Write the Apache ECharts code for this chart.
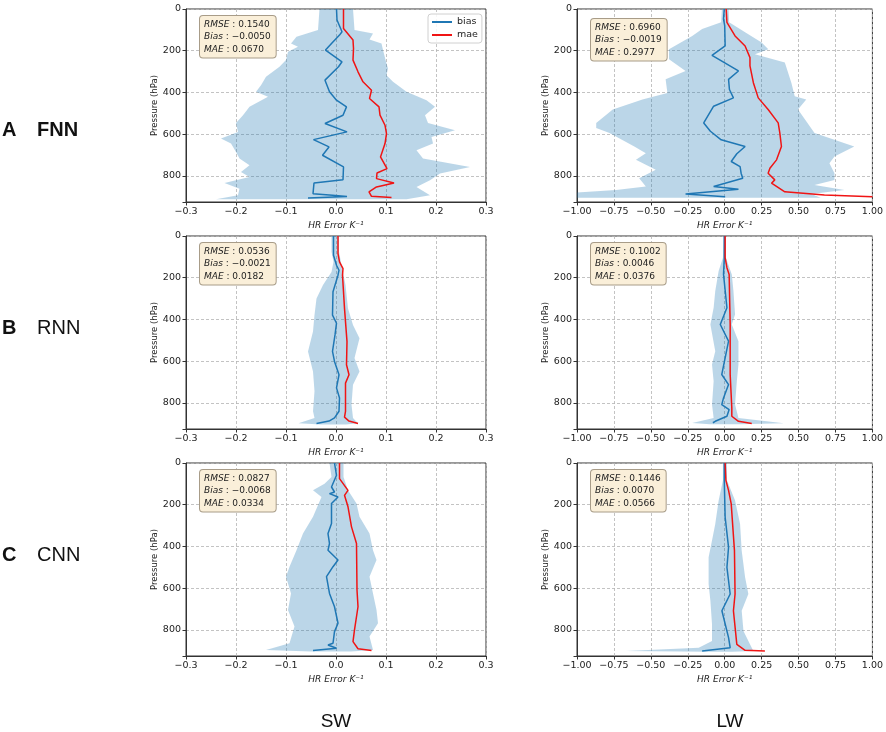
<!DOCTYPE html>
<html>
<head>
<meta charset="utf-8">
<title>HR error profiles</title>
<script src="https://cdn.jsdelivr.net/npm/echarts@6/dist/echarts.min.js"></script>
<style>
  html, body { margin: 0; padding: 0; background: #fff; }
  #chart { width: 886px; height: 732px; }
</style>
</head>
<body>
<div id="chart"></div>
<script>
(() => {
  'use strict';

  // -------- data --------
  const rowLetters = ['A', 'B', 'C'];
  const modelNames = ['FNN', 'RNN', 'CNN'];
  const bandNames = ['SW', 'LW'];
  const pressureTicks = [0, 200, 400, 600, 800];
  const pressureMax = 925;
  const swTicks = [-0.3, -0.2, -0.1, 0, 0.1, 0.2, 0.3];
  const lwTicks = [-1, -0.75, -0.5, -0.25, 0, 0.25, 0.5, 0.75, 1];

  // [RMSE, Bias, MAE]
  const fnnSwStats = ['0.1540', '−0.0050', '0.0670'];
  const fnnLwStats = ['0.6960', '−0.0019', '0.2977'];
  const rnnSwStats = ['0.0536', '−0.0021', '0.0182'];
  const rnnLwStats = ['0.1002', '0.0046', '0.0376'];
  const cnnSwStats = ['0.0827', '−0.0068', '0.0334'];
  const cnnLwStats = ['0.1446', '0.0070', '0.0566'];

  // profiles: [error K^-1, pressure hPa]
  const fnnSwBias = [[0.001,0],[0.002,53],[0.012,109],[0.007,125],[-0.009,165],[-0.021,197],[0.012,253],[0.005,277],[-0.022,341],[-0.013,397],[0.001,437],[0.021,469],[0.014,509],[-0.022,549],[0.022,589],[-0.045,626],[-0.014,661],[-0.027,701],[0.015,757],[0.014,818],[-0.044,834],[-0.046,885],[-0.007,893],[0.022,899],[-0.056,906]];
  const fnnSwMae = [[0.015,0],[0.015,93],[0.034,149],[0.035,189],[0.034,245],[0.044,301],[0.054,349],[0.071,389],[0.067,429],[0.086,469],[0.088,509],[0.098,557],[0.101,597],[0.098,645],[0.089,709],[0.102,765],[0.082,786],[0.081,813],[0.116,834],[0.081,853],[0.066,877],[0.071,898],[0.111,904]];
  const fnnSwLo = [[-0.033,0],[-0.036,101],[-0.079,133],[-0.09,165],[-0.076,181],[-0.096,205],[-0.1,245],[-0.113,277],[-0.14,325],[-0.15,365],[-0.16,397],[-0.136,421],[-0.173,469],[-0.186,509],[-0.2,546],[-0.196,589],[-0.23,621],[-0.21,645],[-0.2,685],[-0.193,717],[-0.173,749],[-0.19,781],[-0.173,805],[-0.223,834],[-0.193,861],[-0.196,893],[-0.24,912]];
  const fnnSwHi = [[0.034,0],[0.037,101],[0.074,117],[0.067,146],[0.091,165],[0.094,197],[0.1,253],[0.104,285],[0.101,317],[0.114,349],[0.141,397],[0.181,437],[0.198,469],[0.178,509],[0.184,546],[0.238,581],[0.191,613],[0.194,645],[0.161,677],[0.174,717],[0.268,757],[0.208,789],[0.188,821],[0.161,853],[0.188,893],[0.141,912]];

  const fnnLwBias = [[-0.003,0],[-0.008,48],[0,80],[0.003,177],[-0.086,222],[0.093,297],[0.026,337],[0.032,386],[0.059,426],[-0.075,466],[-0.142,546],[-0.097,586],[-0.024,627],[0.138,659],[0.082,694],[0.044,731],[0.104,755],[0.111,787],[0.122,811],[-0.075,851],[0.093,864],[-0.265,887],[0.003,900]];
  const fnnLwMae = [[0.01,0],[0.015,64],[0.07,129],[0.138,177],[0.171,233],[0.171,273],[0.194,353],[0.227,426],[0.294,482],[0.362,546],[0.373,594],[0.384,659],[0.351,723],[0.306,763],[0.294,787],[0.339,819],[0.317,835],[0.407,876],[0.675,892],[1.0,900]];
  const fnnLwLo = [[-0.019,0],[-0.024,64],[-0.153,96],[-0.22,129],[-0.377,193],[-0.377,241],[-0.265,297],[-0.4,337],[-0.388,402],[-0.557,434],[-0.758,482],[-0.87,546],[-0.87,570],[-0.78,594],[-0.612,659],[-0.534,691],[-0.601,723],[-0.467,771],[-0.579,811],[-0.534,851],[-0.736,867],[-1.0,880],[-1.0,905]];
  const fnnLwHi = [[0.026,0],[0.03,64],[0.138,112],[0.25,161],[0.295,193],[0.205,217],[0.407,257],[0.451,353],[0.474,418],[0.552,434],[0.496,482],[0.608,594],[0.877,659],[0.743,707],[0.709,739],[0.743,787],[0.743,819],[0.608,843],[0.81,867],[0.586,887],[0.65,905]];

  const rnnSwBias = [[-0.005,0],[-0.005,92],[0.001,140],[0.006,164],[0.004,188],[-0.006,267],[-0.007,379],[0.001,418],[-0.002,474],[-0.007,553],[-0.003,601],[0.006,665],[0.001,728],[0.007,776],[0.006,840],[-0.003,872],[-0.014,887],[-0.039,899]];
  const rnnSwMae = [[0.004,0],[0.004,84],[0.007,124],[0.014,156],[0.013,188],[0.017,347],[0.022,506],[0.021,617],[0.026,665],[0.019,705],[0.019,840],[0.017,868],[0.026,887],[0.044,899]];
  const rnnSwLo = [[-0.009,0],[-0.009,76],[-0.005,124],[-0.009,172],[-0.026,235],[-0.039,299],[-0.043,379],[-0.046,458],[-0.056,553],[-0.046,649],[-0.043,744],[-0.046,840],[-0.043,872],[-0.075,898],[-0.03,903]];
  const rnnSwHi = [[0.006,0],[0.006,76],[0.011,140],[0.019,235],[0.024,347],[0.034,426],[0.047,490],[0.037,585],[0.047,649],[0.034,713],[0.031,808],[0.034,872],[0.044,898],[0.02,903]];

  const rnnLwBias = [[-0.003,0],[-0.003,104],[-0.008,184],[0.015,344],[-0.03,424],[0.026,504],[0.003,584],[-0.02,664],[0.026,712],[-0.008,776],[-0.02,808],[0.03,832],[0.015,864],[-0.064,888],[-0.08,895]];
  const rnnLwMae = [[0.003,0],[0.003,104],[0.015,152],[0.03,184],[0.037,424],[0.037,664],[0.048,824],[0.048,864],[0.093,888],[0.183,899]];
  const rnnLwLo = [[-0.008,0],[-0.012,104],[-0.041,168],[-0.064,264],[-0.075,344],[-0.097,424],[-0.064,552],[-0.086,616],[-0.075,696],[-0.086,808],[-0.075,872],[-0.22,896],[-0.1,902]];
  const rnnLwHi = [[0.008,0],[0.008,104],[0.048,184],[0.059,264],[0.07,376],[0.048,424],[0.093,504],[0.093,616],[0.082,696],[0.07,808],[0.093,872],[0.4,898],[0.1,902]];

  const cnnSwBias = [[-0.003,0],[0.001,59],[-0.009,115],[-0.003,139],[-0.013,147],[0.004,163],[-0.009,194],[-0.009,290],[-0.016,338],[-0.013,386],[-0.016,418],[0.004,465],[-0.006,497],[-0.019,545],[-0.013,625],[-0.003,689],[0.004,768],[-0.003,808],[-0.006,864],[-0.016,872],[0.001,888],[-0.046,899]];
  const cnnSwMae = [[0.007,0],[0.007,75],[0.024,131],[0.017,155],[0.024,210],[0.031,306],[0.041,386],[0.042,609],[0.044,689],[0.037,800],[0.034,856],[0.044,890],[0.071,899]];
  const cnnSwLo = [[-0.013,0],[-0.009,67],[-0.023,99],[-0.046,131],[-0.029,163],[-0.046,258],[-0.066,338],[-0.079,418],[-0.093,497],[-0.1,545],[-0.09,625],[-0.096,705],[-0.083,784],[-0.093,864],[-0.14,896],[-0.05,903]];
  const cnnSwHi = [[0.015,0],[0.015,67],[0.024,131],[0.041,194],[0.047,258],[0.067,338],[0.074,418],[0.081,465],[0.067,545],[0.074,625],[0.081,705],[0.084,768],[0.067,832],[0.074,896],[0.03,903]];

  const cnnLwBias = [[-0.003,0],[-0.003,83],[0.003,260],[0.026,404],[0.015,500],[0.037,628],[-0.019,708],[0.026,837],[0.037,885],[-0.153,901]];
  const cnnLwMae = [[0.003,0],[0.008,83],[0.026,131],[0.044,196],[0.066,420],[0.07,628],[0.059,708],[0.082,869],[0.138,898],[0.272,901]];
  const cnnLwLo = [[-0.012,0],[-0.012,83],[-0.041,180],[-0.064,292],[-0.086,372],[-0.109,452],[-0.109,580],[-0.097,660],[-0.086,773],[-0.086,853],[-0.176,885],[-0.669,901],[-0.1,905]];
  const cnnLwHi = [[0.015,0],[0.015,83],[0.07,180],[0.104,292],[0.115,420],[0.138,548],[0.16,628],[0.115,708],[0.127,805],[0.171,869],[0.194,901],[0.05,905]];

  // row-major: FNN SW, FNN LW, RNN SW, ...
  const panels = [
    { bias: fnnSwBias, mae: fnnSwMae, lo: fnnSwLo, hi: fnnSwHi, stats: fnnSwStats },
    { bias: fnnLwBias, mae: fnnLwMae, lo: fnnLwLo, hi: fnnLwHi, stats: fnnLwStats },
    { bias: rnnSwBias, mae: rnnSwMae, lo: rnnSwLo, hi: rnnSwHi, stats: rnnSwStats },
    { bias: rnnLwBias, mae: rnnLwMae, lo: rnnLwLo, hi: rnnLwHi, stats: rnnLwStats },
    { bias: cnnSwBias, mae: cnnSwMae, lo: cnnSwLo, hi: cnnSwHi, stats: cnnSwStats },
    { bias: cnnLwBias, mae: cnnLwMae, lo: cnnLwLo, hi: cnnLwHi, stats: cnnLwStats },
  ];

  // -------- layout / style --------
  const FONT = "'DejaVu Sans', sans-serif";
  const LABEL_FONT = "'Liberation Sans', Arial, sans-serif";
  const COL_LEFT = [186, 577];
  const COL_WIDTH = [300, 298];
  const ROW_TOP = [9, 236, 463];
  const ROW_HEIGHT = 193;
  const ROW_LABEL_Y = [130, 328, 555];
  const COL_LABEL_X = [336, 730];
  const BIAS_COLOR = '#1f77b4';
  const MAE_COLOR = '#f01414';
  const BAND_COLOR = 'rgba(31,119,180,0.3)';
  const FRAME = '#333';
  const GRIDLINE = '#b4b4b4';

  const fmtTick = (v, digits) => {
    if (Math.abs(v) < 1e-9) return (0).toFixed(digits);
    return (v < 0 ? '−' : '') + Math.abs(v).toFixed(digits);
  };

  const grids = [], xAxes = [], yAxes = [], series = [], graphics = [];

  panels.forEach((p, i) => {
    const row = Math.floor(i / 2);
    const col = i % 2;
    const ticks = col === 0 ? swTicks : lwTicks;
    const digits = col === 0 ? 1 : 2;
    const xmin = ticks[0], xmax = ticks[ticks.length - 1];

    grids.push({
      left: COL_LEFT[col], top: ROW_TOP[row], width: COL_WIDTH[col], height: ROW_HEIGHT,
      show: true, borderColor: FRAME, borderWidth: 1, backgroundColor: 'rgba(0,0,0,0)',
    });

    xAxes.push({
      type: 'value', gridIndex: i,
      min: xmin, max: xmax, interval: ticks[1] - ticks[0],
      name: 'HR Error K⁻¹', nameLocation: 'middle', nameGap: 19,
      nameTextStyle: { fontFamily: FONT, fontSize: 9, fontStyle: 'italic', color: '#222' },
      axisLine: { show: true, onZero: false, lineStyle: { color: FRAME, width: 1 } },
      axisTick: { show: true, length: 3.5, lineStyle: { color: FRAME } },
      axisLabel: {
        margin: 5, fontFamily: FONT, fontSize: 9.5, color: '#222',
        formatter: (v) => fmtTick(v, digits),
      },
      splitLine: { show: true, lineStyle: { color: GRIDLINE, type: [3, 2], width: 0.8 } },
    });

    yAxes.push({
      type: 'value', gridIndex: i, inverse: true,
      min: pressureTicks[0], max: pressureMax, interval: pressureTicks[1] - pressureTicks[0],
      name: 'Pressure (hPa)', nameLocation: 'middle', nameGap: 24,
      nameTextStyle: { fontFamily: FONT, fontSize: 8.5, color: '#222' },
      axisLine: { show: true, onZero: false, lineStyle: { color: FRAME, width: 1 } },
      axisTick: { show: true, length: 3.5, lineStyle: { color: FRAME } },
      axisLabel: {
        margin: 5, fontFamily: FONT, fontSize: 9.5, color: '#222',
        formatter: (v) => (pressureTicks.includes(v) ? String(v) : ''),
      },
      splitLine: { show: true, lineStyle: { color: GRIDLINE, type: [3, 2], width: 0.8 } },
    });

    const clampX = (x) => Math.max(xmin, Math.min(xmax, x));
    const ring = p.lo.concat(p.hi.slice().reverse());
    series.push({
      type: 'custom', name: 'band', xAxisIndex: i, yAxisIndex: i,
      data: [[0, 0]], silent: true, z: 1,
      renderItem: (params, api) => ({
        type: 'polygon',
        shape: { points: ring.map((d) => api.coord([clampX(d[0]), d[1]])) },
        style: { fill: BAND_COLOR },
      }),
    });
    series.push({
      type: 'line', name: 'bias', xAxisIndex: i, yAxisIndex: i, data: p.bias,
      symbol: 'none', z: 3, animation: false,
      lineStyle: { color: BIAS_COLOR, width: 1.5 }, itemStyle: { color: BIAS_COLOR },
    });
    series.push({
      type: 'line', name: 'mae', xAxisIndex: i, yAxisIndex: i, data: p.mae,
      symbol: 'none', z: 3, animation: false,
      lineStyle: { color: MAE_COLOR, width: 1.5 }, itemStyle: { color: MAE_COLOR },
    });

    // stats box
    graphics.push({
      type: 'text', z: 100,
      left: COL_LEFT[col] + 13, top: ROW_TOP[row] + 6 + (col === 1 && row === 0 ? 3 : 0),
      style: {
        text: `{i|RMSE} : ${p.stats[0]}\n{i|Bias} : ${p.stats[1]}\n{i|MAE} : ${p.stats[2]}`,
        rich: { i: { fontStyle: 'italic', fontFamily: FONT, fontSize: 9, lineHeight: 12.5 } },
        fontFamily: FONT, fontSize: 9, lineHeight: 12.5, fill: '#222',
        backgroundColor: '#faefd9', borderColor: '#a89c88', borderWidth: 1, borderRadius: 3,
        padding: [2, 5, 2, 4],
      },
    });
  });

  // row / column labels
  rowLetters.forEach((letter, r) => {
    graphics.push({
      type: 'text', x: 2, y: ROW_LABEL_Y[r],
      style: { text: letter, fontFamily: LABEL_FONT, fontSize: 20, fontWeight: 'bold',
        fill: '#111', verticalAlign: 'middle', align: 'left' },
    });
    graphics.push({
      type: 'text', x: 37, y: ROW_LABEL_Y[r],
      style: { text: modelNames[r], fontFamily: LABEL_FONT, fontSize: 20,
        fontWeight: r === 0 ? 'bold' : 'normal',
        fill: '#111', verticalAlign: 'middle', align: 'left' },
    });
  });
  bandNames.forEach((name, c) => {
    graphics.push({
      type: 'text', x: COL_LABEL_X[c], y: 722,
      style: { text: name, fontFamily: LABEL_FONT, fontSize: 19, fill: '#111',
        verticalAlign: 'middle', align: 'center' },
    });
  });

  const chart = echarts.init(document.getElementById('chart'), null, { renderer: 'canvas' });
  chart.setOption({
    animation: false,
    backgroundColor: '#fff',
    grid: grids,
    xAxis: xAxes,
    yAxis: yAxes,
    series: series,
    legend: {
      data: ['bias', 'mae'],
      orient: 'vertical', left: 428, top: 14,
      icon: 'rect', itemWidth: 20, itemHeight: 2, itemGap: 3,
      padding: [3, 4, 3, 4],
      borderColor: '#d0d0d0', borderWidth: 1, borderRadius: 3,
      backgroundColor: 'rgba(255,255,255,0.85)',
      selectedMode: false,
      textStyle: { fontFamily: FONT, fontSize: 9.5, color: '#222' },
    },
    graphic: graphics,
  });
})();
</script>
</body>
</html>
